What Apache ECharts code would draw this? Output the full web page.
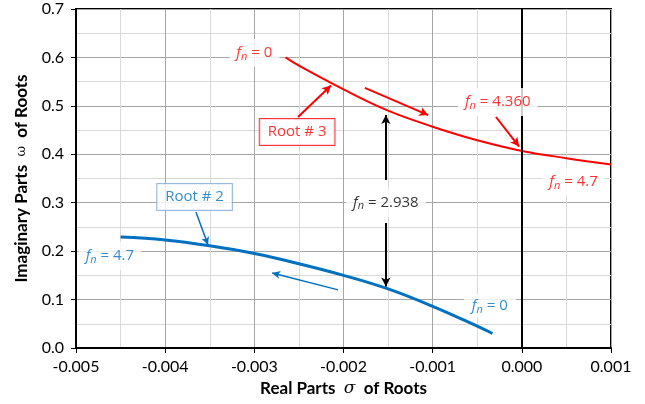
<!DOCTYPE html>
<html><head><meta charset="utf-8">
<script src="https://cdn.jsdelivr.net/npm/echarts@6/dist/echarts.min.js"></script>
<style>html,body{margin:0;padding:0;background:#fff}#c{width:645px;height:404px}</style>
</head><body><div id="c"></div>
<script>
// Root #3 (red) : real part sigma, imaginary part omega
const sigmaRoot3 = [-0.00265, -0.0025, -0.002, -0.0015, -0.001, -0.0005, 0.0, 0.0005, 0.001];
const omegaRoot3 = [0.600, 0.583, 0.534, 0.490, 0.457, 0.429, 0.407, 0.392, 0.379];
// Root #2 (blue)
const sigmaRoot2 = [-0.0045, -0.004, -0.0035, -0.003, -0.0025, -0.002, -0.0015, -0.001, -0.0005, -0.00033];
const omegaRoot2 = [0.229, 0.223, 0.211, 0.195, 0.174, 0.150, 0.122, 0.086, 0.045, 0.030];
const xTicks = [-0.005, -0.004, -0.003, -0.002, -0.001, 0.000, 0.001];
const yTicks = [0.0, 0.1, 0.2, 0.3, 0.4, 0.5, 0.6, 0.7];

const FONT = 'Lato';
const AFONT = 'Open Sans';
const zip = (a, b) => a.map((v, i) => [v, b[i]]);
const noStroke = {textBorderWidth: 0, textBorderColor: 'transparent', textShadowBlur: 0};
const fnRich = (color) => ({
  f: Object.assign({fontFamily: AFONT, fontStyle: 'italic', fontSize: 15, color, lineHeight: 18, verticalAlign: 'middle'}, noStroke),
  n: Object.assign({fontFamily: AFONT, fontStyle: 'italic', fontSize: 11, color, lineHeight: 11, verticalAlign: 'bottom'}, noStroke),
  t: Object.assign({fontFamily: AFONT, fontSize: 15, color, lineHeight: 18, verticalAlign: 'middle'}, noStroke)
});
function fnLabel(pt, txt, color, pad) {
  return {
    value: pt,
    label: Object.assign({
      show: true, position: 'inside', color,
      formatter: '{f|f}{n|n}{t| = ' + txt + '}',
      backgroundColor: '#fff', padding: pad || [5, 7, 5, 7],
      rich: fnRich(color)
    }, noStroke)
  };
}
function boxLabel(pt, txt, color, border) {
  return {
    value: pt,
    label: Object.assign({
      show: true, position: 'inside', formatter: txt,
      fontFamily: AFONT, fontSize: 15, color,
      backgroundColor: '#fff', borderColor: border, borderWidth: 1,
      padding: [6, 8, 5, 8]
    }, noStroke)
  };
}
function arrow(a, b) { return [{coord: a}, {coord: b}]; }

const chart = echarts.init(document.getElementById('c'), null, {renderer: 'canvas'});
chart.setOption({
  animation: false,
  backgroundColor: '#fff',
  grid: {left: 76, right: 34, top: 9, bottom: 56, show: true, borderColor: '#000', borderWidth: 2, backgroundColor: 'transparent'},
  xAxis: {
    type: 'value', min: xTicks[0], max: xTicks[xTicks.length - 1], interval: 0.001,
    name: '{b|Real Parts  }{g|σ}{b|  of Roots}', nameLocation: 'middle', nameGap: 30,
    nameTextStyle: {rich: {
      b: {fontFamily: FONT, fontWeight: 'bold', fontSize: 17, color: '#000'},
      g: {fontFamily: 'DejaVu Serif', fontStyle: 'italic', fontSize: 17, color: '#000'}
    }},
    axisLine: {show: true, onZero: false, lineStyle: {color: '#000', width: 2}},
    axisTick: {show: true, length: 5, lineStyle: {color: '#000', width: 1}},
    axisLabel: {margin: 11, fontFamily: FONT, fontSize: 16, color: '#000',
      formatter: v => (Math.abs(v) < 1e-12 ? 0 : v).toFixed(3)},
    splitLine: {show: true, lineStyle: {color: '#a6a6a6', width: 1}},
    minorTick: {show: false, splitNumber: 2},
    minorSplitLine: {show: true, lineStyle: {color: '#d9d9d9', width: 1}}
  },
  yAxis: {
    type: 'value', min: yTicks[0], max: yTicks[yTicks.length - 1], interval: 0.1,
    name: '{b|Imaginary Parts  }{g|ω}{b|  of Roots}', nameLocation: 'middle', nameGap: 46,
    nameTextStyle: {rich: {
      b: {fontFamily: FONT, fontWeight: 'bold', fontSize: 17, color: '#000'},
      g: {fontFamily: 'DejaVu Serif', fontSize: 13, color: '#000'}
    }},
    axisLine: {show: true, onZero: false, lineStyle: {color: '#000', width: 2}},
    axisTick: {show: true, length: 5, lineStyle: {color: '#000', width: 1}},
    axisLabel: {margin: 12, fontFamily: FONT, fontSize: 16, color: '#000',
      formatter: v => v.toFixed(1)},
    splitLine: {show: true, lineStyle: {color: '#a6a6a6', width: 1}},
    minorTick: {show: false, splitNumber: 2},
    minorSplitLine: {show: true, lineStyle: {color: '#d9d9d9', width: 1}}
  },
  series: [
    { // sigma = 0 line
      type: 'line', data: [], z: 2, silent: true,
      markLine: {silent: true, symbol: ['none', 'none'], label: {show: false},
        lineStyle: {color: '#000', width: 2, type: 'solid'},
        data: [{xAxis: 0}]}
    },
    {
      name: 'Root # 3', type: 'line', data: zip(sigmaRoot3, omegaRoot3), smooth: 0.4,
      showSymbol: false, symbol: 'none', z: 3,
      lineStyle: {color: '#ff0000', width: 2}, itemStyle: {color: '#ff0000'}
    },
    {
      name: 'Root # 2', type: 'line', data: zip(sigmaRoot2, omegaRoot2), smooth: 0.4,
      showSymbol: false, symbol: 'none', z: 3,
      lineStyle: {color: '#0070c0', width: 3}, itemStyle: {color: '#0070c0'}
    },
    { // red arrows
      type: 'line', data: [], z: 4,
      markLine: {silent: true, symbol: ['none', 'arrow'], symbolSize: [7, 9], label: {show: false},
        lineStyle: {color: '#ff0000', width: 2, type: 'solid'}, itemStyle: {color: '#ff0000'},
        data: [
          arrow([-0.00251, 0.477], [-0.00214, 0.542]),
          arrow([-0.00176, 0.537], [-0.00105, 0.481]),
          arrow([-0.00029, 0.477], [-0.00003, 0.416])
        ]}
    },
    { // blue arrows
      type: 'line', data: [], z: 4,
      markLine: {silent: true, symbol: ['none', 'arrow'], symbolSize: [6, 8], label: {show: false},
        lineStyle: {color: '#0070c0', width: 1.5, type: 'solid'}, itemStyle: {color: '#0070c0'},
        data: [
          arrow([-0.003655, 0.281], [-0.00352, 0.213]),
          arrow([-0.00206, 0.120], [-0.00280, 0.155])
        ]}
    },
    { // black arrows
      type: 'line', data: [], z: 4,
      markLine: {silent: true, symbol: ['none', 'arrow'], symbolSize: [7, 9], label: {show: false},
        lineStyle: {color: '#000', width: 2, type: 'solid'}, itemStyle: {color: '#000'},
        data: [
          arrow([-0.001525, 0.347], [-0.001525, 0.481]),
          arrow([-0.001525, 0.258], [-0.001525, 0.127])
        ]}
    },
    { // annotation labels
      type: 'scatter', z: 10, symbolSize: 0, symbol: 'circle',
      itemStyle: {color: 'rgba(0,0,0,0)'}, silent: true,
      data: [
        fnLabel([-0.00300, 0.609], '0', '#ff0000'),
        boxLabel([-0.00252, 0.446], 'Root # 3', '#ff0000', '#ff0000'),
        fnLabel([-0.00027, 0.508], '4.360', '#ff0000'),
        fnLabel([0.00058, 0.343], '4.7', '#ff0000'),
        fnLabel([-0.001525, 0.300], '2.938', '#000000'),
        boxLabel([-0.00367, 0.312], 'Root # 2', '#0070c0', '#7ea6d8'),
        fnLabel([-0.00462, 0.190], '4.7', '#0070c0'),
        fnLabel([-0.00036, 0.088], '0', '#0070c0', [3, 8, 2, 8])
      ]
    }
  ]
});
</script></body></html>
